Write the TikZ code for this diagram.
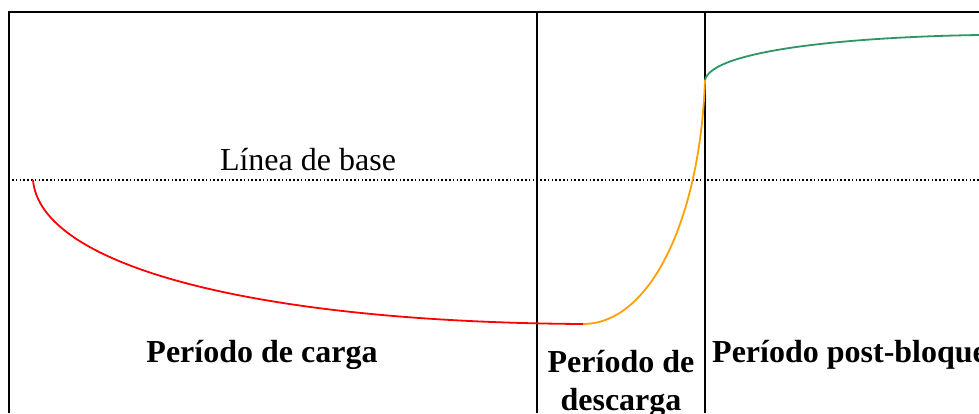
\documentclass[tikz,border=0pt]{standalone}
\usepackage{fontspec}
\setmainfont{Liberation Serif}
\usepackage{tikz}
\definecolor{carga}{RGB}{255,0,0}
\definecolor{descarga}{RGB}{255,160,0}
\definecolor{postbloq}{RGB}{46,150,100}

\begin{document}
\begin{tikzpicture}[
   x=1pt,y=-1pt,
   frame/.style={line width=2.2pt},
   base/.style={dash pattern=on 1.6pt off 2.2pt,line width=1.3pt},
   curve/.style={line width=1.8pt},
   label/.style={font=\fontsize{32}{38}\selectfont,inner sep=0pt},
   period/.style={label,font=\fontsize{32}{38}\selectfont\bfseries,align=center}]
\useasboundingbox (0,0) rectangle (979,413);
\clip (0,0) rectangle (979,413);
\draw[frame] (9,413) -- (9,12) -- (979,12);
\draw[frame] (537,12) -- (537,413);
\draw[frame] (705,12) -- (705,413);
\draw[base] (12,180) -- (979,180);
\node[label,anchor=base] (lbase) at (308,170) {Línea de base};
\draw[curve,carga] (33,180) .. controls (40,265) and (250,322) .. (583,324);
\draw[curve,descarga] (583,324) .. controls (650,324) and (700,220) .. (705,80);
\draw[curve,postbloq] (705,80) .. controls (712,50) and (850,37) .. (979,35);
\node[period,anchor=base] (pcarga) at (262,362) {Período de carga};
\node[period,anchor=base] (pdesc) at (621,410) {Período de\\descarga};
\node[period,anchor=base west] (ppost) at (712,362) {Período post-bloque};
\end{tikzpicture}
\end{document}
